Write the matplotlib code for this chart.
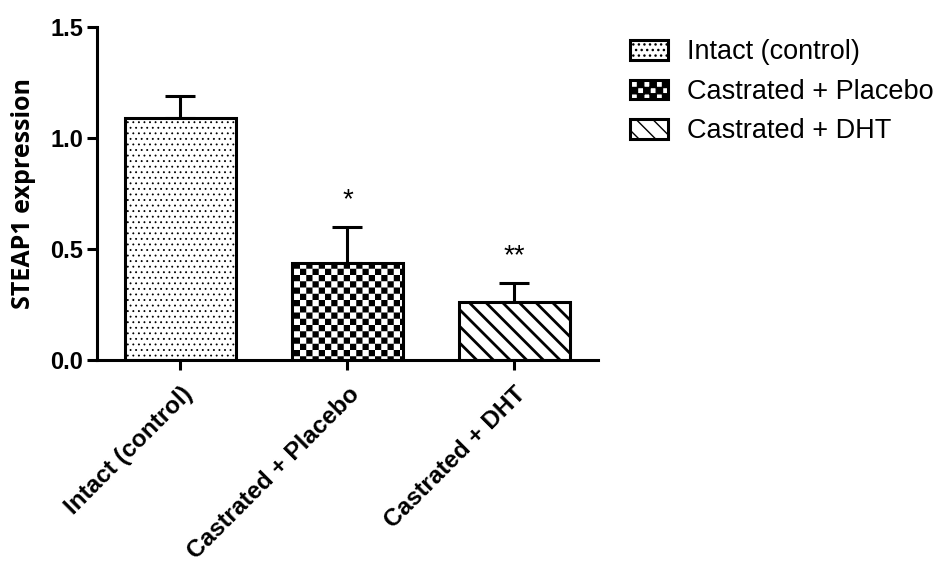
import warnings
import numpy as np
import matplotlib
matplotlib.use("Agg")
import matplotlib.pyplot as plt
import matplotlib.hatch as mhatch
import matplotlib.transforms as mtrans
from matplotlib.path import Path

warnings.filterwarnings("ignore")

# ========================================
# data
# ========================================
groups = ["Intact (control)", "Castrated + Placebo", "Castrated + DHT"]
means = [1.09, 0.438, 0.261]
sem = [0.10, 0.161, 0.086]
stars = ["", "*", "**"]
hatches = ["...", "c", "\\\\"]


# checkerboard hatch (not built into matplotlib)
class CheckerHatch(mhatch.HatchPatternBase):
    def __init__(self, hatch, density):
        self.n = 16 if "c" in hatch else 0
        self.cells = [(i, j) for i in range(self.n) for j in range(self.n) if (i + j) % 2 == 0]
        self.num_vertices = len(self.cells) * 5

    def set_vertices_and_codes(self, vertices, codes):
        s = 1.0 / self.n
        k = 0
        for i, j in self.cells:
            x0, y0 = i * s, j * s
            vertices[k:k + 5] = [(x0, y0), (x0 + s, y0), (x0 + s, y0 + s), (x0, y0 + s), (x0, y0)]
            codes[k] = Path.MOVETO
            codes[k + 1:k + 4] = Path.LINETO
            codes[k + 4] = Path.CLOSEPOLY
            k += 5


mhatch._hatch_types.append(CheckerHatch)

plt.rcParams["font.family"] = ["Liberation Sans", "DejaVu Sans"]

fig = plt.figure(figsize=(9.37, 5.63), dpi=100)
ax = fig.add_axes([0.1035, 0.3606, 0.5345, 0.5914])

x = np.arange(len(groups))
bars = ax.bar(x, means, width=0.667, color="white", edgecolor="black", linewidth=2.2,
              yerr=[np.zeros(len(sem)), sem], capsize=10.5,
              error_kw=dict(elinewidth=2.2, capthick=2.2, ecolor="black", zorder=1),
              label=groups, zorder=2)
hatch_lw = [0.6, 0.0, 2.0]
for b, h, lw in zip(bars, hatches, hatch_lw):
    b.set_hatch(h)
    if hasattr(b, "set_hatch_linewidth"):
        b.set_hatch_linewidth(lw)

for xi, m, e, s in zip(x, means, sem, stars):
    if s:
        ax.text(xi, m + e + 0.06, s, ha="center", va="bottom", fontsize=20)

ax.set_xlim(-0.5, 2.5)
ax.set_ylim(0, 1.5)
ax.set_yticks([0, 0.5, 1.0, 1.5])
ax.set_yticklabels(["0.0", "0.5", "1.0", "1.5"], fontsize=17, fontweight="bold")
ax.set_xticks(x)
ax.set_xticklabels(groups, fontsize=17.5, fontweight="bold", rotation=45,
                   ha="right", rotation_mode="anchor")
shift = mtrans.ScaledTranslation(-0.04, 0, fig.dpi_scale_trans)
for lab in ax.get_xticklabels():
    lab.set_transform(lab.get_transform() + shift)
ax.set_ylabel("STEAP1 expression", fontsize=18, fontweight="bold", family="Open Sans",
              labelpad=10)
ax.spines["top"].set_visible(False)
ax.spines["right"].set_visible(False)
ax.spines["left"].set_linewidth(2.2)
ax.spines["bottom"].set_linewidth(2.2)
ax.tick_params(axis="y", length=7, width=2.2, pad=3)
ax.tick_params(axis="x", length=7, width=2.2, pad=9)

leg = fig.legend(handles=list(bars), labels=groups, loc="upper left",
                 bbox_to_anchor=(0.672, 0.93), frameon=False, fontsize=19.5,
                 handlelength=1.42, handleheight=0.74, handletextpad=0.7,
                 labelspacing=0.5, borderpad=0, borderaxespad=0)
for p in leg.get_patches():
    p.set_linewidth(2.2)

fig.savefig("out.png", dpi=100)
